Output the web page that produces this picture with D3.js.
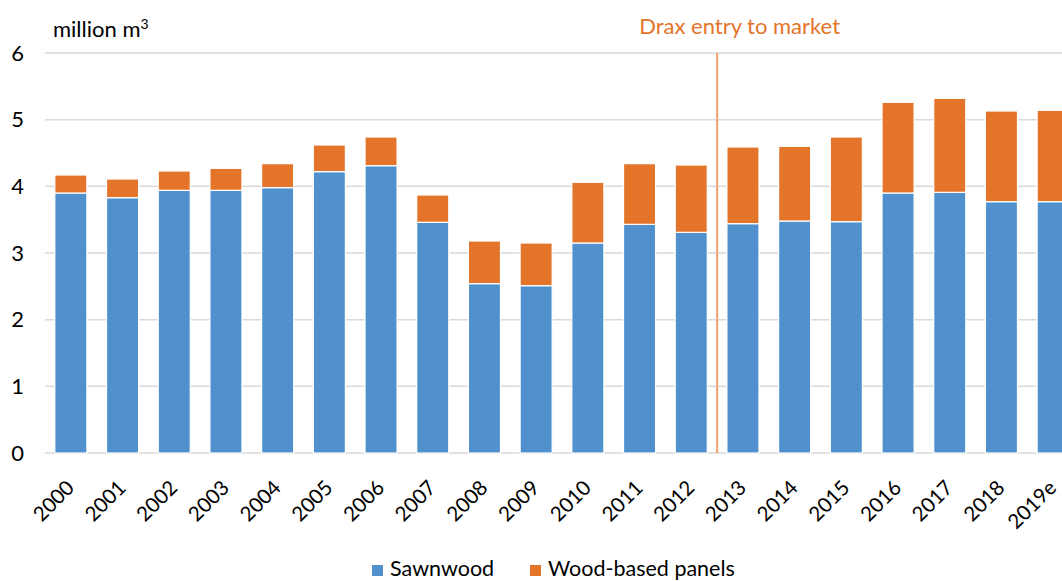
<!DOCTYPE html>
<html><head><meta charset="utf-8">
<script src="https://cdn.jsdelivr.net/npm/d3@7"></script>
<style>
html,body{margin:0;padding:0;background:#fff;overflow:hidden}
svg{display:block;font-family:Lato,"Open Sans",sans-serif}
</style></head>
<body><svg id="c" width="1062" height="581"></svg>
<script>
const years = ["2000","2001","2002","2003","2004","2005","2006","2007","2008","2009","2010","2011","2012","2013","2014","2015","2016","2017","2018","2019e"];
const sawnwood = [3.90,3.83,3.94,3.94,3.98,4.22,4.31,3.46,2.54,2.51,3.15,3.43,3.31,3.44,3.48,3.47,3.90,3.91,3.77,3.77];
const panels   = [0.27,0.28,0.29,0.33,0.36,0.40,0.43,0.41,0.64,0.64,0.91,0.91,1.01,1.15,1.12,1.27,1.36,1.41,1.36,1.37];
const seriesNames = ["Sawnwood","Wood-based panels"];
const colors = ["#5091CD","#E3742A"];
const yTicks = [0,1,2,3,4,5,6];
const markerYear = "2013";
const markerLabel = "Drax entry to market";
const unitLabel = "million m";

(function(){
const svg = d3.select("#c");
const mLeft = 45, mTop = 53, mBottom = 453, step = 51.7;
const x = d3.scaleBand().domain(years).range([mLeft, mLeft + step*years.length]).paddingInner(0.38).paddingOuter(0.19);
const y = d3.scaleLinear().domain([0,6]).range([mBottom, mTop]);

svg.append("g").selectAll("line").data(yTicks).join("line")
  .attr("x1", mLeft).attr("x2", 1062)
  .attr("y1", d=>y(d)).attr("y2", d=>y(d))
  .attr("stroke", "#D9D9D9").attr("stroke-width", 1.5);

svg.append("g").selectAll("text").data(yTicks).join("text")
  .attr("x", 24).attr("y", d=>y(d)).attr("dy","0.35em")
  .attr("text-anchor","end").attr("font-size",22).attr("fill","#000")
  .text(d=>d);

const ut = svg.append("text").attr("x",53).attr("y",37).attr("font-size",22).attr("fill","#000").text(unitLabel);
ut.append("tspan").attr("font-size",14).attr("dy",-8).text("3");

const rows = years.map((yr,i)=>({year:yr, Sawnwood:sawnwood[i], "Wood-based panels":panels[i]}));
const stack = d3.stack().keys(seriesNames)(rows);
svg.append("g").selectAll("g").data(stack).join("g")
  .attr("fill",(d,i)=>colors[i])
  .selectAll("rect").data(d=>d).join("rect")
  .attr("x", d=>x(d.data.year)).attr("width", x.bandwidth())
  .attr("y", d=>y(d[1])).attr("height", d=>y(d[0])-y(d[1]))
  .attr("stroke","#fff").attr("stroke-width",1.2);

const mx = x(markerYear) - (x.step()-x.bandwidth())/2;
svg.append("line").attr("x1",mx).attr("x2",mx).attr("y1",y(6)).attr("y2",y(0))
  .attr("stroke","#F2AA7A").attr("stroke-width",2.2);
svg.append("text").attr("x",mx+22.5).attr("y",34).attr("text-anchor","middle")
  .attr("font-size",22).attr("fill","#E3742A").text(markerLabel);

svg.append("g").selectAll("text").data(years).join("text")
  .attr("text-anchor","end")
  .attr("transform", d=>`translate(${x(d)+x.bandwidth()/2+4.5},${mBottom+36}) rotate(-45)`)
  .attr("font-size",20.5).attr("fill","#000").text(d=>d);

const lg = svg.append("g");
const legX = [372, 530];
seriesNames.forEach((n,i)=>{
  lg.append("rect").attr("x",legX[i]).attr("y",565).attr("width",11).attr("height",11).attr("fill",colors[i]);
  lg.append("text").attr("x",legX[i]+18).attr("y",576).attr("font-size",21.5).attr("fill","#000").text(n);
});
})();
</script></body></html>
